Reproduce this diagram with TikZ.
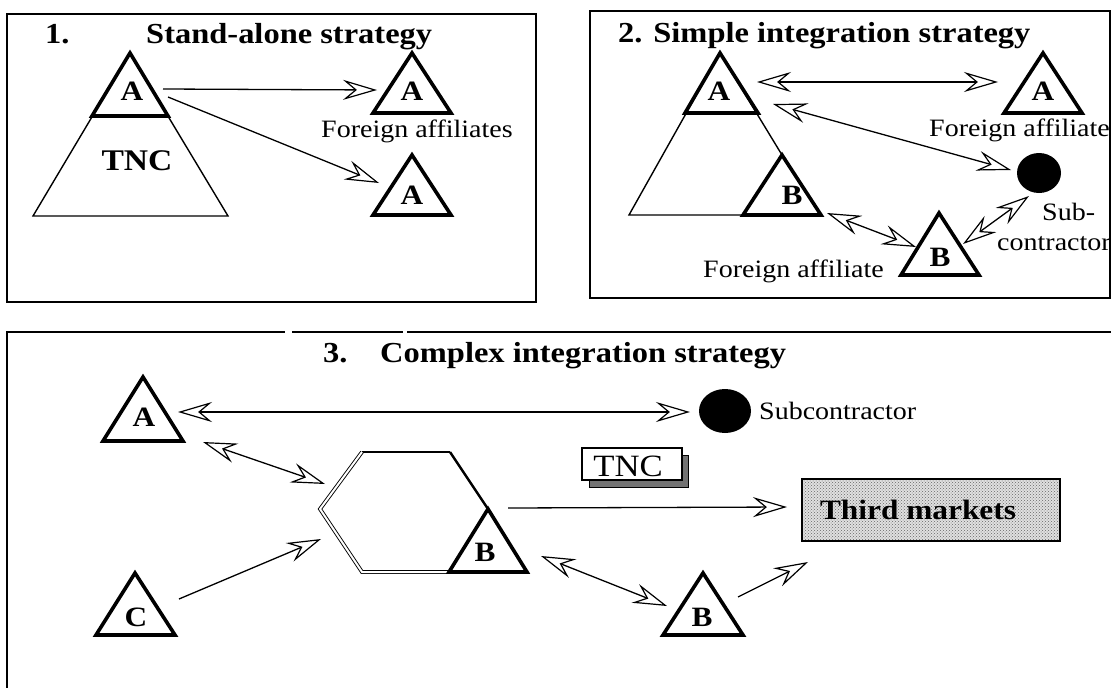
\documentclass[tikz,border=0pt]{standalone}
\usepackage{fontspec}
\setmainfont{Liberation Serif}
\usepackage{graphicx}
\usetikzlibrary{arrows.meta,patterns}
\newcommand{\sx}[1]{\scalebox{1.12}[1]{#1}}
\tikzset{
  frame/.style={line width=1.8pt},
  thinl/.style={line width=1.4pt},
  tri/.style={line width=3.6pt, line join=miter},
  lbl/.style={font=\fontsize{28}{28}\selectfont\bfseries, inner sep=0pt},
  ttl/.style={font=\fontsize{29}{29}\selectfont\bfseries, inner sep=0pt, anchor=base west},
  txt/.style={font=\fontsize{25}{25}\selectfont, inner sep=0pt, anchor=base west},
  tip/.tip={Stealth[length=34pt, width=20pt, inset=12pt, fill=white, line width=1.2pt]},
  oa/.style={line width=1.3pt, -tip},
  da/.style={line width=1.3pt, tip-tip},
}
\begin{document}
\begin{tikzpicture}[x=1pt, y=-1pt]
\useasboundingbox (0,0) rectangle (1111,688);
\fill[white] (0,0) rectangle (1111,688);
\clip (0,0) rectangle (1111,688);

% ---------------- Box 1 ----------------
\draw[frame] (7,14) rectangle (536,302);
\node[ttl] (t1n) at (45,43) {\sx{1.}};
\node[ttl] (t1) at (146,43) {\sx{Stand-alone strategy}};
\draw[thinl] (130,53) -- (33,216) -- (228,216) -- cycle;
\draw[tri] (130,53) -- (92,116) -- (168,116) -- cycle;
\node[lbl] (b1A) at (132,91) {\sx{A}};
\node[font=\fontsize{30}{30}\selectfont\bfseries, inner sep=0pt] (b1tnc) at (137,161) {\sx{TNC}};
\draw[tri] (412,53) -- (373,113) -- (451,113) -- cycle;
\node[lbl] (b1A2) at (412,91) {\sx{A}};
\draw[tri] (412,155) -- (373,215) -- (451,215) -- cycle;
\node[lbl] (b1A3) at (412,195) {\sx{A}};
\node[txt] (b1fa) at (321,137) {\sx{Foreign affiliates}};
\coordinate (p1) at (163,89);
\coordinate (p2) at (377,90);
\coordinate (p3) at (168,97);
\coordinate (p4) at (379,183);
\draw[oa] (p1) -- (p2);
\draw[oa] (p3) -- (p4);

% ---------------- Box 2 ----------------
\draw[frame] (590,11) rectangle (1110,298);
\node[ttl] (t2) at (618,42) {\sx{2. Simple integration strategy}};
\draw[thinl] (782,155) -- (720,53) -- (629,215) -- (743,215);
\draw[tri] (720,53) -- (685,113) -- (758,113) -- cycle;
\draw[tri] (782,155) -- (743,215) -- (821,215) -- cycle;
\node[lbl] (b2A) at (719,91) {\sx{A}};
\node[lbl] (b2B) at (792,195) {\sx{B}};
\draw[tri] (1043,53) -- (1004,113) -- (1082,113) -- cycle;
\node[lbl] (b2A2) at (1043,91) {\sx{A}};
\node[txt] (b2fa) at (929,136) {\sx{Foreign affiliate}};
\fill (1039,173) ellipse [x radius=22, y radius=20];
\coordinate (b2sub) at (1039,173);
\node[txt] (b2s1) at (1042,220) {\sx{Sub-}};
\node[txt] (b2s2) at (997,250) {\sx{contractor}};
\draw[tri] (939,213) -- (901,275) -- (979,275) -- cycle;
\node[lbl] (b2B2) at (940,257) {\sx{B}};
\node[txt] (b2fb) at (703,277) {\sx{Foreign affiliate}};
\coordinate (q1) at (757,82);
\coordinate (q2) at (998,82);
\coordinate (q3) at (773,104);
\coordinate (q4) at (1011,170);
\coordinate (q5) at (827,213);
\coordinate (q6) at (916,247);
\coordinate (q7) at (963,244);
\coordinate (q8) at (1029,196);
\draw[da] (q1) -- (q2);
\draw[da] (q3) -- (q4);
\draw[da] (q5) -- (q6);
\draw[da] (q7) -- (q8);

% ---------------- Box 3 ----------------
\draw[frame] (7,688) -- (7,332) -- (285,332);
\draw[frame] (292,332) -- (403,332);
\draw[frame] (407,332) -- (1111,332);
\node[ttl] (t3n) at (323,362) {\sx{3.}};
\node[ttl] (t3) at (380,362) {\sx{Complex integration strategy}};
\draw[tri] (143,377) -- (103,441) -- (183,441) -- cycle;
\node[lbl] (b3A) at (144,417) {\sx{A}};
\draw[tri] (135,573) -- (96,635) -- (175,635) -- cycle;
\node[lbl] (b3C) at (136,617) {\sx{C}};
% hexagon
\draw[thinl] (362,452) -- (450,452);
\draw[line width=2.4pt] (450,452) -- (488,509);
\draw[double, double distance=2pt, line width=0.9pt] (362,452) -- (320,509) -- (362,572) -- (450,572);
\draw[tri] (488,509) -- (449,572) -- (527,572) -- cycle;
\node[lbl] (b3B) at (485,552) {\sx{B}};
% subcontractor
\fill (725,411) ellipse [x radius=26, y radius=22];
\node[txt] (b3sub) at (759,419) {\sx{Subcontractor}};
% TNC box
\filldraw[line width=1pt, fill=black!55] (589,455) rectangle (688,487);
\filldraw[line width=1.5pt, fill=white] (582,448) rectangle (682,480);
\node[font=\fontsize{31}{31}\selectfont, inner sep=0pt] (b3tnc) at (628,466) {\sx{TNC}};
% Third markets
\fill[black!12] (802,479) rectangle (1060,541);
\fill[pattern=crosshatch dots, pattern color=black!60] (802,479) rectangle (1060,541);
\draw[line width=1.5pt] (802,479) rectangle (1060,541);
\node[font=\fontsize{28}{28}\selectfont\bfseries, inner sep=0pt] (b3tm) at (918,510) {\sx{Third markets}};
% lower B
\draw[tri] (703,573) -- (663,635) -- (743,635) -- cycle;
\node[lbl] (b3B2) at (702,617) {\sx{B}};
% arrows
\coordinate (r1) at (178,412);
\coordinate (r2) at (690,412);
\coordinate (r3) at (203,442);
\coordinate (r4) at (325,484);
\coordinate (r5) at (179,599);
\coordinate (r6) at (321,539);
\coordinate (r7) at (508,508);
\coordinate (r8) at (787,507);
\coordinate (r9) at (541,556);
\coordinate (r10) at (667,606);
\coordinate (r11) at (738,597);
\coordinate (r12) at (808,562);
\draw[da] (r1) -- (r2);
\draw[da] (r3) -- (r4);
\draw[oa] (r5) -- (r6);
\draw[oa] (r7) -- (r8);
\draw[da] (r9) -- (r10);
\draw[oa] (r11) -- (r12);
\end{tikzpicture}
\end{document}
